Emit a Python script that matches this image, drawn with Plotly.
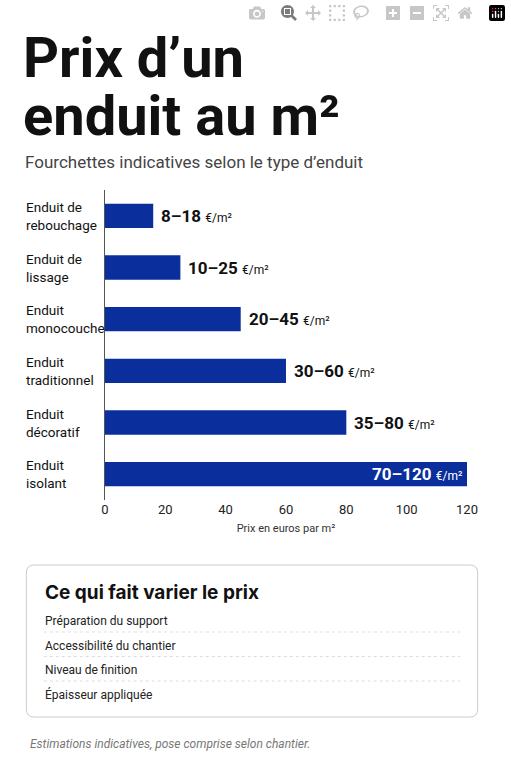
import plotly.graph_objects as go

cat_labels = ["Enduit de<br>rebouchage", "Enduit de<br>lissage", "Enduit<br>monocouche", "Enduit<br>traditionnel", "Enduit<br>décoratif", "Enduit<br>isolant"]
bar_values = [16, 25, 45, 60, 80, 120]
range_labels = ["8–18", "10–25", "20–45", "30–60", "35–80", "70–120"]
x_ticks = [0, 20, 40, 60, 80, 100, 120]
factors = ["Préparation du support", "Accessibilité du chantier", "Niveau de finition", "Épaisseur appliquée"]

W, H = 511, 768
def px(x): return x / W
def py(y): return 1 - y / H

BLUE = "#0a2f9c"
fig = go.Figure(go.Bar(x=bar_values, y=list(range(len(cat_labels))), orientation="h",
                       marker=dict(color=BLUE, line=dict(width=0)), width=0.47))

ann = []
for line, yb in (("Prix d’un", 58), ("enduit au m²", 116)):
    ann.append(dict(x=px(18), y=py(yb), xref="paper", yref="paper", xanchor="left", yanchor="middle",
                    text=f"<b>{line}</b>", showarrow=False, align="left",
                    font=dict(family="Liberation Sans Narrow, Roboto, sans-serif", size=56, color="#111")))
ann.append(dict(x=px(20), y=py(162), xref="paper", yref="paper", xanchor="left", yanchor="middle",
                text="Fourchettes indicatives selon le type d’enduit", showarrow=False,
                font=dict(family="Roboto, sans-serif", size=17, color="#444")))
for i, (lab, v, r) in enumerate(zip(cat_labels, bar_values, range_labels)):
    ann.append(dict(x=px(21), y=i, xref="paper", yref="y", xanchor="left", yanchor="middle",
                    text=lab, showarrow=False, align="left",
                    font=dict(family="Roboto, sans-serif", size=13.5, color="#111")))
    inside = v >= 120
    ann.append(dict(x=v, y=i, xref="x", yref="y", xanchor="right" if inside else "left", yanchor="middle",
                    xshift=-3 if inside else 6, showarrow=False,
                    text=f"<b>{r}</b> <span style='font-size:12px'>€/m²</span>",
                    font=dict(family="Liberation Sans Narrow, Roboto, sans-serif", size=17,
                              color="white" if inside else "#111")))
ann.append(dict(x=px(40), y=py(592), xref="paper", yref="paper", xanchor="left", yanchor="middle",
                text="<b>Ce qui fait varier le prix</b>", showarrow=False,
                font=dict(family="Inter, Roboto, sans-serif", size=19, color="#111")))
shapes = []
for k, f in enumerate(factors):
    yc = 621 + k * 24.5
    ann.append(dict(x=px(40), y=py(yc), xref="paper", yref="paper", xanchor="left", yanchor="middle",
                    text=f, showarrow=False, font=dict(family="Roboto, sans-serif", size=12, color="#222")))
    if k < 3:
        shapes.append(dict(type="line", xref="paper", yref="paper", x0=px(41), x1=px(470),
                           y0=py(yc + 11), y1=py(yc + 11), line=dict(color="#ddd", width=1, dash="dot")))
ann.append(dict(x=px(25), y=py(744), xref="paper", yref="paper", xanchor="left", yanchor="middle",
                text="<i>Estimations indicatives, pose comprise selon chantier.</i>", showarrow=False,
                font=dict(family="Roboto, sans-serif", size=12, color="#777")))

x0, x1, y0, y1, r = 23, 488, 565, 717, 8
def P(x, y): return f"{px(x)},{py(y)}"
path = (f"M {P(x0+r,y0)} L {P(x1-r,y0)} Q {P(x1,y0)} {P(x1,y0+r)} L {P(x1,y1-r)} Q {P(x1,y1)} {P(x1-r,y1)} "
        f"L {P(x0+r,y1)} Q {P(x0,y1)} {P(x0,y1-r)} L {P(x0,y0+r)} Q {P(x0,y0)} {P(x0+r,y0)} Z")
shapes.append(dict(type="path", xref="paper", yref="paper", path=path, line=dict(color="#ccc", width=1)))

fig.update_layout(width=W, height=H, margin=dict(l=0, r=0, t=0, b=0), paper_bgcolor="white",
                  plot_bgcolor="white", showlegend=False, annotations=ann, shapes=shapes,
                  xaxis=dict(domain=[px(104), px(477)], range=[0, 120], tickvals=x_ticks, showgrid=False,
                             zeroline=False, showline=False, ticks="", tickfont=dict(family="Roboto", size=13, color="#222"),
                             title=dict(text="Prix en euros par m²", font=dict(family="Roboto", size=11, color="#333"), standoff=8)),
                  yaxis=dict(domain=[py(500), py(190)], range=[5.5, -0.5], showticklabels=False, showgrid=False,
                             zeroline=False, showline=True, linecolor="#555", linewidth=1, ticks=""))
fig.write_html("out.html", post_script="document.body.style.margin='0';document.body.style.overflow='hidden';")
